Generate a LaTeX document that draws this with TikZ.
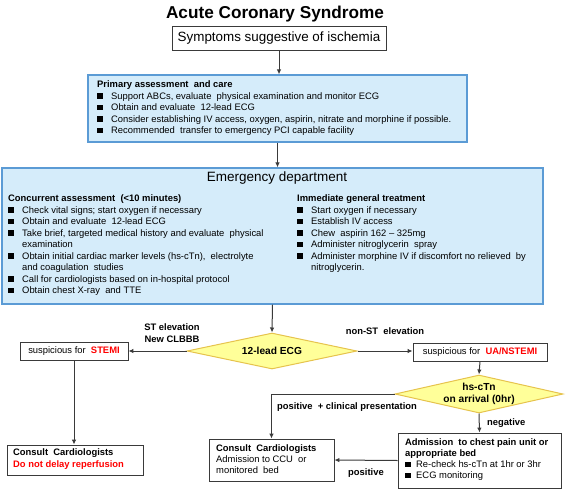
\documentclass[tikz,border=0pt]{standalone}
\usepackage{fontspec}
\setmainfont{Liberation Sans}
\usetikzlibrary{shapes.geometric,arrows.meta}
\definecolor{edfill}{HTML}{D5ECFA}
\definecolor{edline}{HTML}{5B9BD5}
\definecolor{dfill}{HTML}{FFFF99}
\definecolor{dline}{HTML}{E6C34D}
\definecolor{lin}{HTML}{3A3A3A}
\definecolor{rd}{HTML}{FF0000}
\newcommand{\bul}{\makebox[14pt][l]{\rule[0.3pt]{5.5pt}{5.5pt}}}
\newcommand{\bulb}{\makebox[11pt][l]{\rule[0.3pt]{5.5pt}{5.5pt}}}
\begin{document}
\begin{tikzpicture}[x=1pt,y=-1pt,
  box/.style={draw=lin, line width=0.8pt, fill=white, inner sep=0, font=\fontsize{9.4}{11.5}\selectfont},
  bluebox/.style={draw=edline, fill=edfill, line width=1.2pt, inner sep=0},
  dia/.style={diamond, draw=dline, fill=dfill, line width=1pt, inner sep=-6pt, font=\bfseries\fontsize{10.2}{12}\selectfont, align=center},
  arr/.style={draw=lin, line width=1pt, -{Latex[length=5pt,width=4.5pt]}},
  lbl/.style={font=\bfseries\fontsize{9.4}{11.5}\selectfont, inner sep=0, align=center},
  txt/.style={inner sep=0, align=left, anchor=north west, font=\fontsize{9.4}{11.5}\selectfont}]
\useasboundingbox (0,0) rectangle (567,490);

\node[font=\bfseries\fontsize{17.2}{19}\selectfont, inner sep=0] (title) at (275,14) {Acute Coronary Syndrome};

\node[box, minimum width=214pt, minimum height=24pt, font=\fontsize{13.4}{15}\selectfont] (sym) at (279,38) {Symptoms suggestive of ischemia};

\node[bluebox, minimum width=379pt, minimum height=67pt] (prim) at (277.5,108.5) {};
\node[txt] (primt) at (97,80.5) {\textbf{Primary assessment\ \ and care}\\
\bul Support ABCs, evaluate\ \ physical examination and monitor ECG\\
\bul Obtain and evaluate\ \ 12-lead ECG\\
\bul Consider establishing IV access, oxygen, aspirin, nitrate and morphine if possible.\\
\bul Recommended\ \ transfer to emergency PCI capable facility};

\node[bluebox, minimum width=541pt, minimum height=136pt] (ed) at (272.5,236) {};
\node[font=\fontsize{13.5}{15}\selectfont, inner sep=0] (edt) at (277,178) {Emergency department};
\node[txt] (edl) at (8,194.5) {\textbf{Concurrent assessment\ \ (<10 minutes)}\\
\bul Check vital\ signs; start oxygen if necessary\\
\bul Obtain and evaluate\ \ 12-lead ECG\\
\bul Take brief, targeted medical history and evaluate\ \ physical\\
\hspace*{14pt}examination\\
\bul Obtain initial cardiac marker levels (hs-cTn),\ \ electrolyte\\
\hspace*{14pt}and coagulation\ \ studies\\
\bul Call for cardiologists based on in-hospital protocol\\
\bul Obtain chest X-ray\ \ and TTE};
\node[txt] (edr) at (297,194.5) {\textbf{Immediate general treatment}\\
\bul Start oxygen if necessary\\
\bul Establish IV access\\
\bul Chew\ \ aspirin 162 -- 325mg\\
\bul Administer nitroglycerin\ \ spray\\
\bul Administer morphine IV if discomfort no relieved\ \ by\\
\hspace*{14pt}nitroglycerin.};

\node[dia, aspect=4.7, minimum width=170pt, minimum height=36pt] (ecg) at (272,351) {12-lead ECG};
\node[box, minimum width=108pt, minimum height=18pt] (stemi) at (74,351) {suspicious for\ \ \textcolor{rd}{\textbf{STEMI}}};
\node[box, minimum width=134pt, minimum height=18pt] (ua) at (480,352) {suspicious for\ \ \textcolor{rd}{\textbf{UA/NSTEMI}}};
\node[dia, aspect=4.4, inner sep=-10pt, minimum width=168pt, minimum height=38pt, font=\bfseries\fontsize{10.2}{11.5}\selectfont] (hs) at (479,394) {hs-cTn\\on arrival (0hr)};

\node[box, minimum width=136pt, minimum height=30pt] (c1) at (75,460) {};
\node[txt, font=\bfseries\fontsize{9.4}{12}\selectfont] (c1t) at (13,448.5) {Consult\ \ Cardiologists\\\textcolor{rd}{Do not delay reperfusion}};

\node[box, minimum width=125pt, minimum height=42pt] (c2) at (271.5,460) {};
\node[txt, font=\fontsize{9.4}{10.8}\selectfont] (c2t) at (216,444.5) {\textbf{Consult\ \ Cardiologists}\\Admission to CCU\ \ or\\monitored\ \ bed};

\node[box, minimum width=163pt, minimum height=55pt] (adm) at (479.5,460.5) {};
\node[txt, font=\fontsize{9.4}{11}\selectfont] (admt) at (405,438.5) {\textbf{Admission\ \ to chest pain unit or}\\\textbf{appropriate bed}\\
\bulb Re-check hs-cTn at 1hr or 3hr\\
\bulb ECG monitoring};

\node[lbl] (l1) at (172,333) {ST elevation\\New CLBBB};
\node[lbl] (l2) at (385,331) {non-ST\ \ elevation};
\node[lbl] (l3) at (347,407) {positive\ \ + clinical presentation};
\node[lbl, anchor=west] (l4) at (487,423) {negative};
\node[lbl] (l5) at (366,473) {positive};

\draw[arr] (sym.south) -- (sym.south |- prim.north);
\draw[arr] (prim.south) -- (prim.south |- ed.north);
\draw[arr] (ed.south) -- (ecg.north);
\draw[arr] (ecg.west) -- (stemi.east);
\draw[arr] (ecg.east) -- (ecg.east -| ua.west);
\draw[arr] (stemi.south) -- (stemi.south |- c1.north);
\draw[arr] (ua.south) -- (hs.north);
\draw[arr] (hs.west) -| (c2.north);
\draw[arr] (hs.south) -- (adm.north);
\draw[arr] (adm.west) -- (c2.east);
\end{tikzpicture}
\end{document}
